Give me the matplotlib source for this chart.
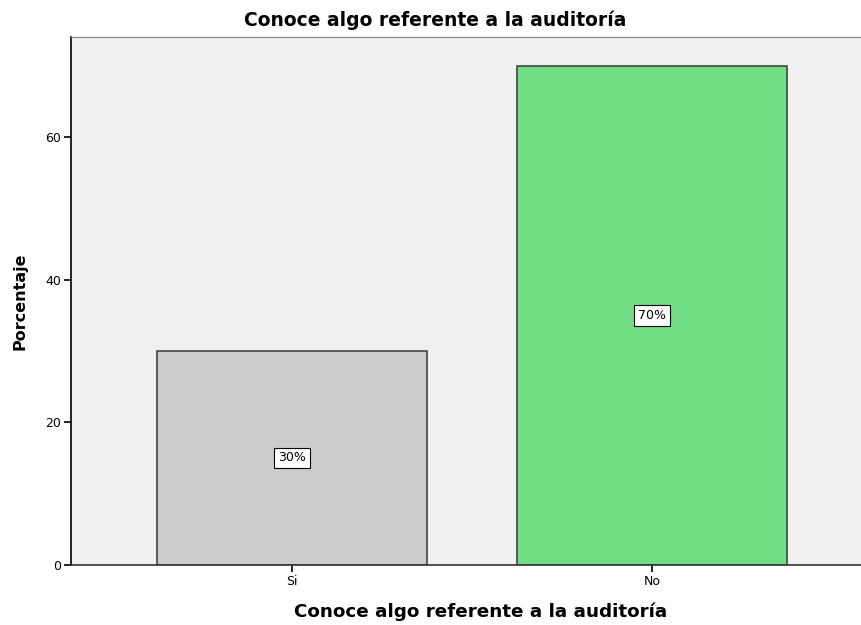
import matplotlib
matplotlib.use('Agg')
import matplotlib.pyplot as plt
from numpy import arange

categories = ['Si', 'No']
porcentaje = [30, 70]
etiquetas = ['30%', '70%']
colores = ['#cccccc', '#71dd85']

plt.rcParams['font.family'] = ['DejaVu Sans']

fig = plt.figure(figsize=(8.61, 6.25), dpi=100)
ax = fig.add_axes([0.0825, 0.096, 0.9175, 0.8448])
ax.set_facecolor('#f0f0f0')

x = arange(len(categories))
ax.bar(x, porcentaje, width=0.75, color=colores, edgecolor='#444444', linewidth=1.2, zorder=2)
for xi, v, lab in zip(x, porcentaje, etiquetas):
    ax.text(xi, v / 2, lab, ha='center', va='center', fontsize=9, zorder=3,
            bbox=dict(boxstyle='square,pad=0.3', facecolor='white', edgecolor='black', linewidth=0.8))

ax.set_xlim(-0.614, 1.58)
ax.set_ylim(0, 74)
ax.set_yticks([0, 20, 40, 60])
ax.set_xticks(x)
ax.set_xticklabels(categories)
ax.tick_params(labelsize=9, length=5, width=1.2, color='black', pad=2)

ax.spines['right'].set_visible(False)
ax.spines['top'].set_color('#888888')
ax.spines['left'].set_color('black')
ax.spines['bottom'].set_color('#333333')
ax.spines['left'].set_linewidth(1.2)
ax.spines['bottom'].set_linewidth(1.2)

# titulo centrado sobre la figura, como en el original
ax.set_title('Conoce algo referente a la auditoría', fontsize=13.5, fontweight='bold',
             x=0.461, y=1.032, va='center', pad=0)
ax.set_xlabel('Conoce algo referente a la auditoría', fontsize=13.2, fontweight='bold')
ax.xaxis.set_label_coords(0.518, -0.089)
ax.xaxis.label.set_va('center')
ax.set_ylabel('Porcentaje', fontsize=11.5, fontweight='bold')
ax.yaxis.set_label_coords(-0.0646, 0.5)
ax.yaxis.label.set_va('center')

plt.savefig('out.png')
plt.close()
